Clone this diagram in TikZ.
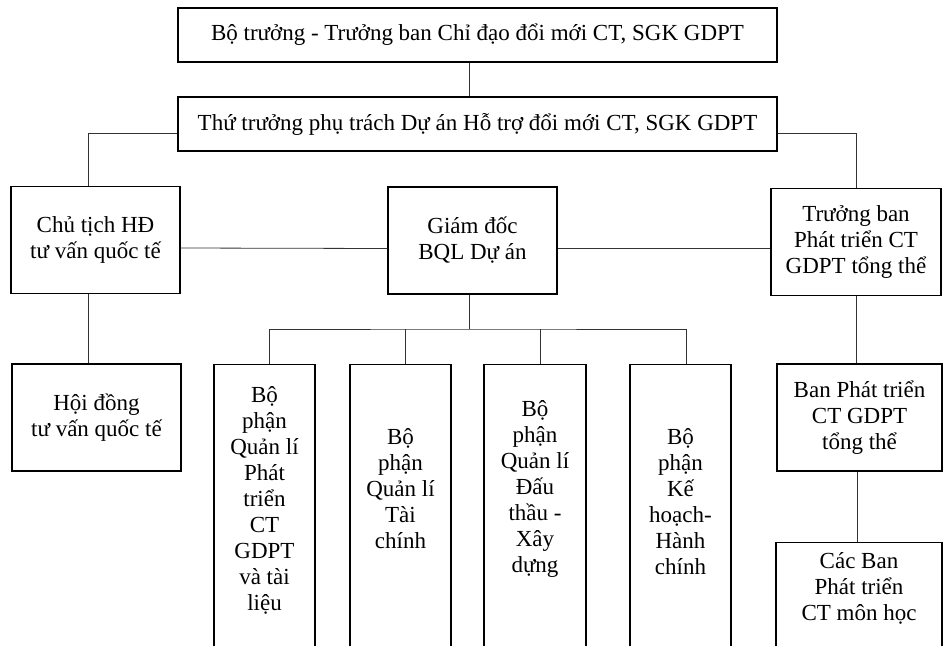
\documentclass[tikz,border=0pt]{standalone}
\usepackage{fontspec}
\setmainfont{Liberation Serif}
\usetikzlibrary{positioning,calc}
\tikzset{
  box/.style={draw, rectangle, line width=1.3pt, align=center, inner sep=2pt},
  wide/.style={minimum width=169pt, minimum height=107pt},
  openbox/.style={draw, rectangle, line width=1.3pt, minimum height=320pt, anchor=north},
  boxtext/.style={align=center, inner sep=0pt},
  link/.style={line width=0.8pt, draw=black!80}
}

\begin{document}
\begin{tikzpicture}[x=1pt, y=-1pt, font=\fontsize{23}{26}\selectfont]
    \useasboundingbox (0,0) rectangle (944,645);
    \clip (0,0) rectangle (944,645);

    \node[box, minimum width=599pt, minimum height=54pt] (minister) at (477.5,35) {Bộ trưởng - Trưởng ban Chỉ đạo đổi mới CT, SGK GDPT};
    \node[box, minimum width=599pt, minimum height=54pt] (deputy) at (477.5,124) {Thứ trưởng phụ trách Dự án Hỗ trợ đổi mới CT, SGK GDPT};

      \node[box, wide] (chair) at (95.5,240) {Chủ tịch HĐ\\tư vấn quốc tế};
      \node[box, wide] (council) at (96.5,417.5) {Hội đồng\\tư vấn quốc tế};

    \node[box, wide] (director) at (472.5,240.5) {Giám đốc\\BQL Dự án};

      \node[openbox, minimum width=101pt] (curriculum) at (264.5,364) {};
      \node[boxtext] (curriculumtext) at (264.5,500) {Bộ\\phận\\Quản lí\\Phát\\triển\\CT\\GDPT\\và tài\\liệu};
      \node[openbox, minimum width=101pt] (finance) at (400.5,364) {};
      \node[boxtext] (financetext) at (400.5,488.5) {Bộ\\phận\\Quản lí\\Tài\\chính};
      \node[openbox, minimum width=102pt] (bidding) at (535,364) {};
      \node[boxtext] (biddingtext) at (535,488.5) {Bộ\\phận\\Quản lí\\Đấu\\thầu -\\Xây\\dựng};
      \node[openbox, minimum width=101pt] (planning) at (680.5,364) {};
      \node[boxtext] (planningtext) at (680.5,502) {Bộ\\phận\\Kế\\hoạch-\\Hành\\chính};

    \node[box, wide, minimum width=170pt] (head) at (856,242) {Trưởng ban\\Phát triển CT\\GDPT tổng thể};
      \node[box, wide, minimum width=165pt] (board) at (859.5,417.5) {Ban Phát triển\\CT GDPT\\tổng thể};
      \node[openbox, minimum width=166pt] (subjects) at (859,542) {};
      \node[boxtext] (subjectstext) at (859,588) {Các Ban\\Phát triển\\CT môn học};

    \coordinate (bus) at (469,329);
    \draw[link] (minister.south -| bus) -- (deputy.north -| bus);
    \draw[link] ([yshift=-9pt]deputy.west) -| ([xshift=-7pt]chair.north);
    \draw[link] ([yshift=-9pt]deputy.east) -| (head.north);
    \draw[link] ([yshift=-8pt]chair.east) -- ([yshift=-8pt]director.west);
    \draw[link] ([yshift=-8pt]director.east) -- ([yshift=-8pt]director.east -| head.west);
    \draw[link] ([xshift=-7pt]chair.south) -- ([xshift=-7pt]chair.south |- council.north);
    \draw[link] (director.south -| bus) -- (bus);
    \draw[link] ([xshift=5pt]curriculum.north) |- (bus) -| ([xshift=6pt]planning.north);
    \draw[link] ([xshift=5pt]finance.north) -- ([xshift=5pt]finance.north |- bus);
    \draw[link] ([xshift=5pt]bidding.north) -- ([xshift=5pt]bidding.north |- bus);
    \draw[link] (head.south) -- (head.south |- board.north);
    \draw[link] ([xshift=-2pt]board.south) -- ([xshift=-2pt]board.south |- subjects.north);
\end{tikzpicture}
\end{document}
